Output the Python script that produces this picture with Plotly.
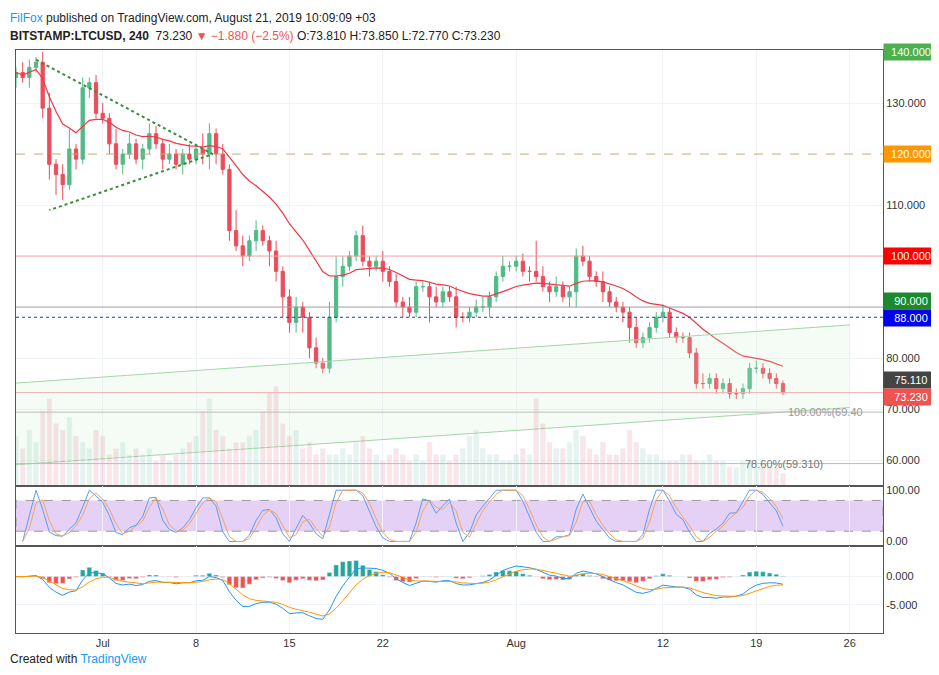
import pandas as pd, numpy as np
import plotly.graph_objects as go
from plotly.subplots import make_subplots

start = "2019-06-24 12:00"
closes = [136,
 135,137, 138,129, 118,116, 114,121, 119,133, 134,128, 127,122, 118,120, 122,119, 121,124,
 122,119, 120,118, 120,119, 121,120, 124,120, 117,105, 102,100, 103,105, 103,101, 97,92,
 87,90, 88,82, 79,78, 88,96, 98,100, 104,99, 98,99, 97,95, 91,90, 89,94, 94,92, 91,93,
 92,88, 88,89, 90,90, 92,96, 98,98, 99,97, 97,96, 94,93, 94,92, 93,100, 99,96, 95,93,
 91,90, 89,86, 83,84, 86,88, 89,85, 84,84, 81,75, 75,76, 74,75, 73,73, 74,78, 78,77, 76,75,
 73.23]
upw = [1,2,1.5,1,2,3,1,2,4,1,2,1,1.5,2,1,3,1,2,1,1,2,1.5,1,2,1,1,2,1,3,2,1,2,1,4,2,1,2,1,1,2,
 1,1.5,2,1,1,2,1,3,4,2,1,1,2,1,1,2,1,1.5,1,2,1,1,1,2,1,1,2,1,1,1.5,2,1,1,2,1,1,1.5,1,6,2,
 1,2,1,1,1.5,2,1,1,2,1,1,1,1,2,1,1,1,1.5,1,1,1,1,1,2,1,1,1,1,1,1,1,1.5,1,1,1,0.6]
dnw = [2,1,2,1,2,3,4,3,1,2,1,2,1,1,2,1,2,1,1,2,1,1,2,1,1,2,1,1,2,3,2,1,2,1,2,1,2,1,3,2,
 4,2,2,3,2,1,1,1,1,2,1,1,1,2,1,2,1,1,2,1,1,1,5,1,1,1,2,1,1,1,1,2,1,1,1,1,1,2,1,1,
 2,1,1,2,3,1,1,1,2,1,1,2,3,1,1,1,1,1,1,1,1,1,1,1,1,1,1,1,1,1,1,1,1,1,1,0.5]
volume = [8,6,9,7,12,14,10,9,11,8,7,6,9,8,5,6,7,5,6,5,6,4,5,4,5,6,7,8,12,14,9,8,6,7,7,8,9,12,15,16,
 10,8,9,6,7,5,6,5,5,6,5,7,8,6,5,4,5,6,5,4,5,4,7,5,5,4,5,6,8,9,6,5,5,4,4,5,6,5,14,10,
 7,6,6,7,9,8,6,5,7,5,5,6,9,7,6,5,5,4,4,4,5,5,4,4,5,4,4,3,3,4,4,3,3,3,3,2]

t = pd.date_range(start, periods=len(closes), freq="12h")
c = pd.Series(closes, dtype=float)
o = c.shift(1).fillna(c.iloc[0] - 1)
hi = np.maximum(o, c) + np.array(upw)
lo = np.minimum(o, c) - np.array(dnw)
ema = c.ewm(span=20).mean()

d = c.diff()
rsi = 100 - 100 / (1 + d.clip(lower=0).ewm(alpha=1/7).mean() / (-d.clip(upper=0)).ewm(alpha=1/7).mean().replace(0, 1e-9))
srsi = (rsi - rsi.rolling(7, min_periods=1).min()) / (rsi.rolling(7, min_periods=1).max() - rsi.rolling(7, min_periods=1).min()).replace(0, 1) * 100
k = srsi.rolling(2, min_periods=1).mean(); dd = k.rolling(2, min_periods=1).mean()
macd = c.ewm(span=6).mean() - c.ewm(span=13).mean()
sig = macd.ewm(span=5).mean(); hist = macd - sig

fig = make_subplots(rows=3, cols=1, shared_xaxes=True, vertical_spacing=0,
                    row_heights=[0.748, 0.102, 0.15])
up, dn = "#53b987", "#eb4d5c"
fig.add_trace(go.Bar(x=t, y=volume, marker_color=["rgba(83,185,135,0.15)" if a >= b else "rgba(235,77,92,0.15)" for a, b in zip(c, o)],
                     showlegend=False), row=1, col=1)
fig.data[0].update(yaxis="y4")
fig.add_trace(go.Candlestick(x=t, open=o, high=hi, low=lo, close=c, whiskerwidth=0,
              increasing=dict(line=dict(color=up, width=1), fillcolor=up),
              decreasing=dict(line=dict(color=dn, width=1), fillcolor=dn), showlegend=False), row=1, col=1)
fig.add_trace(go.Scatter(x=t, y=ema, line=dict(color="#f23645", width=1.2), showlegend=False), row=1, col=1)
fig.add_trace(go.Scatter(x=["2019-06-24", "2019-08-26"], y=[75, 86.5], mode="lines", line=dict(color="#a5d6a7", width=1), showlegend=False), row=1, col=1)
fig.add_trace(go.Scatter(x=["2019-06-24", "2019-08-26"], y=[59, 70.3], mode="lines", line=dict(color="#a5d6a7", width=1),
                         fill="tonexty", fillcolor="rgba(200,240,200,0.18)", showlegend=False), row=1, col=1)
fig.add_trace(go.Scatter(x=["2019-06-26", "2019-07-09 06:00", "2019-06-27"], y=[138.5, 120, 109], mode="lines",
                         line=dict(color="#388e3c", width=2, dash="dot"), showlegend=False), row=1, col=1)
fig.add_trace(go.Scatter(x=t, y=k, line=dict(color="#5b9cf6", width=1), showlegend=False), row=2, col=1)
fig.add_trace(go.Scatter(x=t, y=dd, line=dict(color="#f4a460", width=1), showlegend=False), row=2, col=1)
fig.add_trace(go.Bar(x=t, y=hist, marker_color=["#26a69a" if h >= 0 else "#ef5350" for h in hist], showlegend=False), row=3, col=1)
fig.add_trace(go.Scatter(x=t, y=macd, line=dict(color="#2196f3", width=1), showlegend=False), row=3, col=1)
fig.add_trace(go.Scatter(x=t, y=sig, line=dict(color="#ff9800", width=1), showlegend=False), row=3, col=1)

for y, col, dash in [(120, "#c8a878", "dash"), (100, "#f0a0a0", "solid"), (90, "#9e9e9e", "solid"), (88, "#0d47a1", "dot"),
                     (73.23, "#f5b0b0", "solid"), (69.4, "#bdbdbd", "solid"), (59.31, "#bdbdbd", "solid")]:
    fig.add_hline(y=y, line=dict(color=col, width=1, dash=dash), row=1, col=1)
fig.add_shape(type="rect", xref="x2 domain", yref="y2", x0=0, x1=1, y0=20, y1=80, fillcolor="rgba(180,120,230,0.35)",
              line=dict(color="#999", width=1, dash="dash"), layer="below")

for y, txt, bg in [(140, "140.000", "#4caf50"), (120, "120.000", "#ff9800"), (100, "100.000", "#f00"),
                   (91.2, "90.000", "#1b8a2e"), (87.8, "88.000", "#0000ee"), (75.7, "75.110", "#444"),
                   (72.4, "73.230", "#ef5350")]:
    fig.add_annotation(xref="paper", x=1.0, xanchor="left", y=y, yref="y", text=txt, showarrow=False,
                       bgcolor=bg, font=dict(color="white", size=11), width=52, height=14)
fig.add_annotation(x="2019-08-21 06:00", y=69.4, text="100.00%(69.40", showarrow=False, xanchor="left", font=dict(color="#999", size=11))
fig.add_annotation(x="2019-08-18", y=59.31, text="78.60%(59.310)", showarrow=False, xanchor="left", font=dict(color="#777", size=11))
fig.add_annotation(xref="paper", yref="paper", x=-0.009, y=1.07, xanchor="left", showarrow=False, font=dict(size=12, color="#222"),
                   text="<span style='color:#2196f3'>FilFox</span> published on TradingView.com, August 21, 2019 10:09:09 +03")
fig.add_annotation(xref="paper", yref="paper", x=-0.009, y=1.04, xanchor="left", showarrow=False, font=dict(size=12, color="#222"),
                   text="<b>BITSTAMP:LTCUSD, 240</b>  73.230 <span style='color:#ef5350'>▼ −1.880 (−2.5%)</span> O:73.810 H:73.850 L:72.770 C:73.230")
fig.add_annotation(xref="paper", yref="paper", x=-0.009, y=-0.06, xanchor="left", showarrow=False, font=dict(size=12, color="#222"),
                   text="Created with <span style='color:#2196f3'>TradingView</span>")

ax = dict(showgrid=True, gridcolor="#f0f3fa", linecolor="#555", mirror=True, showline=True, zeroline=False, tickfont=dict(size=11, color="#333"))
fig.update_layout(width=939, height=675, margin=dict(l=8, r=64, t=42, b=50), plot_bgcolor="white", paper_bgcolor="white",
                  bargap=0.3, showlegend=False, font=dict(family="Liberation Sans"),
                  yaxis4=dict(overlaying="y", range=[0, 70], visible=False))
fig.update_xaxes(ax, range=["2019-06-24 12:00", "2019-08-28 12:00"], rangeslider_visible=False,
                 tickvals=["2019-07-01", "2019-07-08", "2019-07-15", "2019-07-22", "2019-08-01", "2019-08-12", "2019-08-19", "2019-08-26"],
                 ticktext=["Jul", "8", "15", "22", "Aug", "12", "19", "26"])
fig.update_xaxes(showticklabels=False, row=1, col=1)
fig.update_xaxes(showticklabels=False, row=2, col=1)
fig.update_xaxes(showticklabels=True, row=3, col=1)
fig.update_yaxes(ax, side="right", row=1, col=1, range=[54.9, 140.4], tickvals=[60, 70, 80, 110, 130], ticktext=["60.000", "70.000", "80.000", "110.000", "130.000"])
fig.update_yaxes(ax, side="right", row=2, col=1, range=[-8, 108], tickvals=[0, 100], ticktext=["0.00", "100.00"], showgrid=False)
fig.update_yaxes(ax, side="right", row=3, col=1, range=[-10, 5.5], tickvals=[0, -5], ticktext=["0.000", "-5.000"])
fig.write_html("out.html")
